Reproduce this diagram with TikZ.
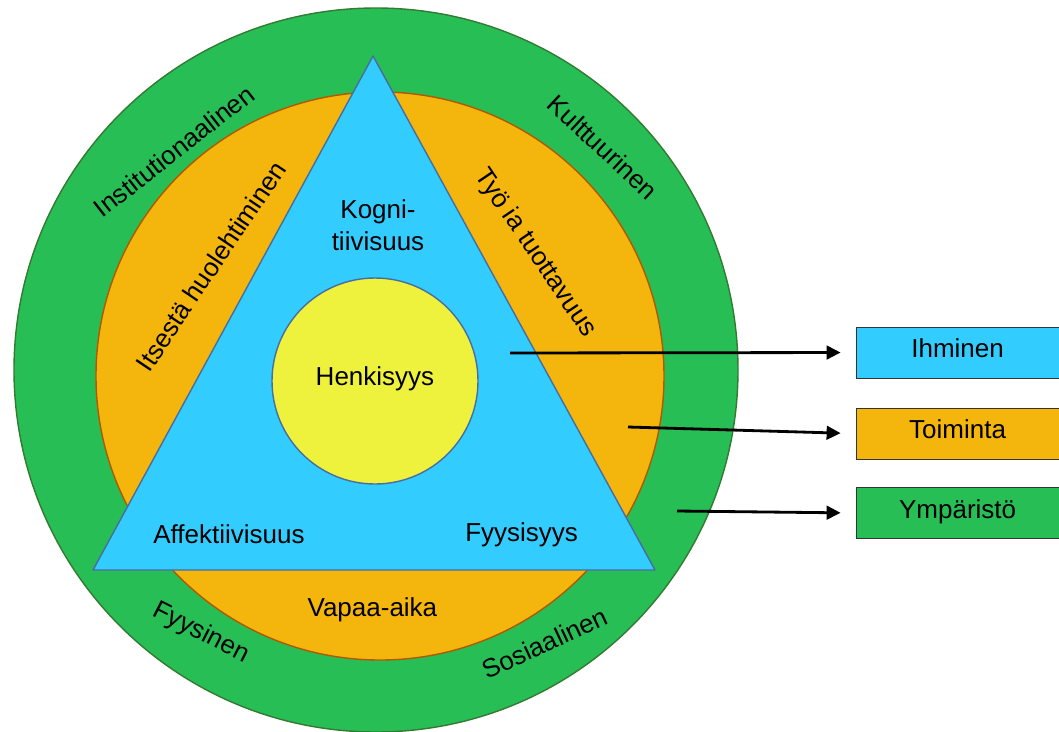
\documentclass[tikz,border=0pt]{standalone}
\usepackage{fontspec}
\setmainfont{Liberation Sans}
\usepackage{xcolor}
\usepackage{tikz}
\usetikzlibrary{arrows.meta,positioning,calc}
\definecolor{ringgreen}{RGB}{40,190,86}
\definecolor{ringorange}{RGB}{244,182,12}
\definecolor{personblue}{RGB}{51,204,255}
\definecolor{coreyellow}{RGB}{239,242,60}
\definecolor{edgeblue}{RGB}{72,110,160}

\begin{document}
\begin{tikzpicture}[
    environ/.style={circle, draw=green!35!black!80, fill=ringgreen, line width=1pt, minimum size=18.1cm, inner sep=0pt},
    activity/.style={circle, draw=orange!70!black, fill=ringorange, line width=1pt, minimum size=14.2cm, inner sep=0pt},
    core/.style={circle, draw=edgeblue, fill=coreyellow, line width=1pt, minimum size=5.15cm, inner sep=0pt},
    txt/.style={font=\fontsize{18.5}{22.8}\selectfont, align=center, inner sep=0pt},
    legendbox/.style={draw=black!80, line width=0.7pt, minimum width=5.075cm, minimum height=1.275cm, inner sep=0pt, text depth=0.22cm, font=\fontsize{18.5}{22.8}\selectfont},
    pointer/.style={line width=2pt, -{Triangle[length=0.35cm,width=0.34cm]}, shorten >=0.375cm}
]
\useasboundingbox (0,0) rectangle (26.475,-18.275);

\node[environ] (env) at (9.4,-9.25) {};
\node[activity] (act) at (9.5,-9.4) {};
\draw[draw=edgeblue, fill=personblue, line width=1pt, line join=round] (9.325,-1.4) -- (2.325,-14.25) -- (16.375,-14.25) -- cycle;
\node[core] (spirit) at (9.375,-9.525) {};

\node[txt] (kog) at (9.45,-5.625) {Kogni-\\tiivisuus};
\node[txt] (hen) at (9.375,-9.46) {Henkisyys};
\node[txt] (aff) at (5.725,-13.35) {Affektiivisuus};
\node[txt] (fyy) at (13.04,-13.375) {Fyysisyys};
\node[txt] (vap) at (9.31,-15.25) {Vapaa-aika};

\node[txt, rotate=38] (inst) at (4.35,-3.775) {Institutionaalinen};
\node[txt, rotate=56] (itse) at (5.275,-6.65) {Itsestä huolehtiminen};
\node[txt, rotate=-43] (kult) at (15.075,-3.675) {Kulttuurinen};
\node[txt, rotate=-56] (tyo) at (13.375,-6.325) {Työ ia tuottavuus};
\node[txt, rotate=-27] (fys) at (5.025,-15.825) {Fyysinen};
\node[txt, rotate=25] (sos) at (13.625,-16.075) {Sosiaalinen};

\node[legendbox, fill=personblue] (ihm) at (23.94,-8.8125) {Ihminen};
\node[legendbox, fill=ringorange] (toi) at (23.94,-10.84) {Toiminta};
\node[legendbox, fill=ringgreen] (ymp) at (23.94,-12.825) {Ympäristö};

\coordinate (from1) at (12.75,-8.825);
\coordinate (from2) at (15.7,-10.675);
\coordinate (from3) at (16.925,-12.775);
\draw[pointer] (from1) -- (ihm.west);
\draw[pointer] (from2) -- (toi.west);
\draw[pointer] (from3) -- (ymp.west);
\end{tikzpicture}
\end{document}
